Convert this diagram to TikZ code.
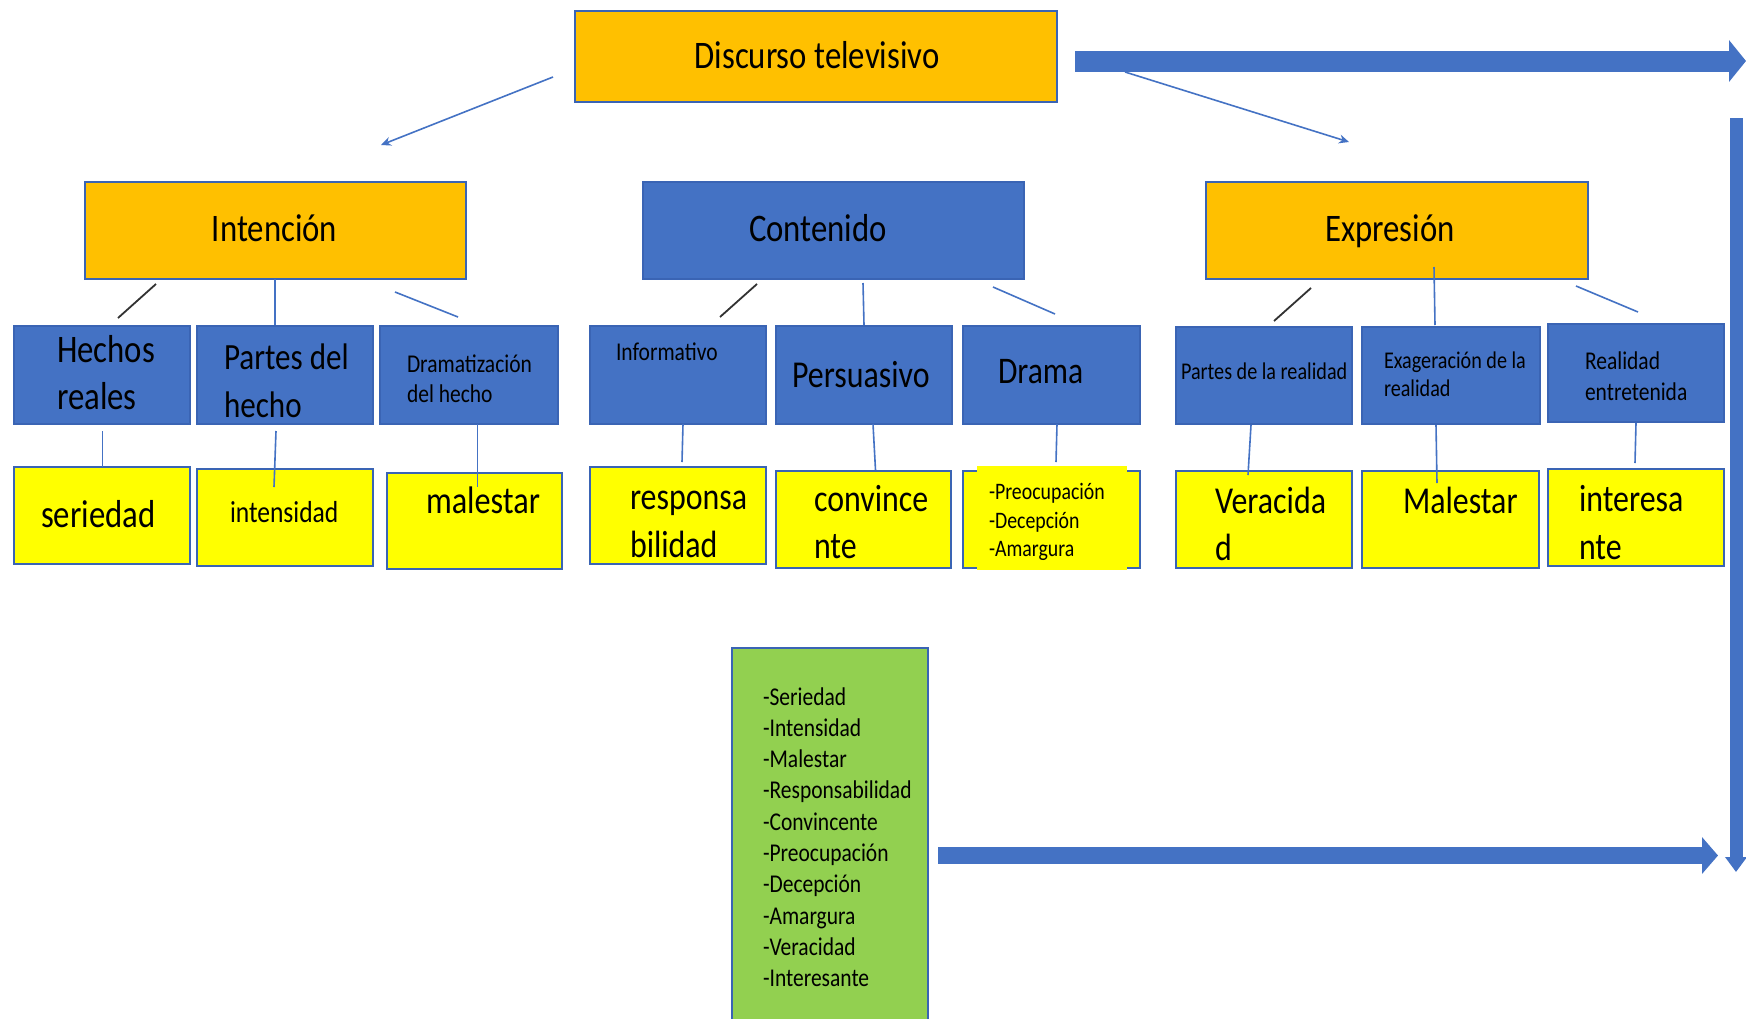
\documentclass[tikz,border=0pt]{standalone}
\usepackage{fontspec}
\setmainfont[FakeStretch=0.84]{Carlito}
\usetikzlibrary{arrows.meta,fit}
\definecolor{ofblue}{RGB}{68,114,196}
\definecolor{ofline}{RGB}{58,100,180}
\definecolor{oforange}{RGB}{255,192,0}
\definecolor{ofyellow}{RGB}{255,255,0}
\definecolor{ofgreen}{RGB}{146,208,80}
\definecolor{darkline}{RGB}{50,50,50}
\newcommand\fsz[1]{\fontsize{#1}{#1}\selectfont}
\begin{document}
\begin{tikzpicture}[x=0.5pt,y=-0.5pt,
  box/.style={draw=ofline, line width=1pt, inner sep=0pt, outer sep=0pt},
  bluebox/.style={box, fill=ofblue},
  orangebox/.style={box, fill=oforange},
  yellowbox/.style={box, fill=ofyellow},
  greenbox/.style={box, fill=ofgreen},
  patch/.style={fill=ofyellow, draw=none, inner sep=0pt, outer sep=0pt},
  txt/.style={inner sep=0pt, outer sep=0pt, anchor=base west, text=black},
  ctxt/.style={inner sep=0pt, outer sep=0pt, anchor=base, text=black, font=\fsz{19.5}},
  link/.style={draw=ofblue, line width=0.8pt},
  slash/.style={draw=darkline, line width=0.9pt},
  thinarrow/.style={draw=ofblue, line width=0.8pt, -{Stealth[length=5pt,width=4.5pt]}},
  bigarrow/.style={draw=ofblue}
]
\useasboundingbox (0,0) rectangle (1746,1018);
\fill[white] (0,0) rectangle (1746,1018);

% ---- level 1
\node[orangebox, fit={(575,11) (1057,102)}] (disc) {};
\node[ctxt] (disct) at (817,68) {Discurso televisivo};

% ---- level 2
\node[orangebox, fit={(85,182) (466,279)}] (inten) {};
\node[ctxt] (intent) at (274.5,241) {Intención};
\node[bluebox, fit={(643,182) (1024,279)}] (conte) {};
\node[ctxt] (contet) at (818,241) {Contenido};
\node[orangebox, fit={(1206,182) (1588,279)}] (expre) {};
\node[ctxt] (expret) at (1390,241) {Expresión};

% ---- level 3 (blue)
\node[bluebox, fit={(14,326) (190,424)}] (hr) {};
\node[txt, font=\fsz{19.5}] (hr1) at (57,362) {Hechos};
\node[txt, font=\fsz{19.5}] (hr2) at (57,409) {reales};

\node[bluebox, fit={(197,326) (373,424)}] (ph) {};
\node[txt, font=\fsz{18.5}] (ph1) at (224,369) {Partes del};
\node[txt, font=\fsz{18.5}] (ph2) at (224,417) {hecho};

\node[bluebox, fit={(380,326) (558,424)}] (dh) {};
\node[txt, font=\fsz{12.8}] (dh1) at (407,372) {Dramatización};
\node[txt, font=\fsz{12.8}] (dh2) at (407,402) {del hecho};

\node[bluebox, fit={(590,326) (766,424)}] (inf) {};
\node[txt, font=\fsz{12.8}] (inf1) at (616,360) {Informativo};

\node[bluebox, fit={(776,326) (952,424)}] (per) {};
\node[txt, font=\fsz{19}] (per1) at (792,387) {Persuasivo};

\node[bluebox, fit={(963,326) (1140,424)}] (dra) {};
\node[txt, font=\fsz{18.8}] (dra1) at (998,383) {Drama};

\node[bluebox, fit={(1176,327) (1352,424)}] (pr) {};
\node[txt, font=\fsz{12}] (pr1) at (1181,379) {Partes de la realidad};

\node[bluebox, fit={(1362,327) (1540,424)}] (ex) {};
\node[txt, font=\fsz{12}] (ex1) at (1384,368) {Exageración de la};
\node[txt, font=\fsz{12}] (ex2) at (1384,396) {realidad};

\node[bluebox, fit={(1548,324) (1724,422)}] (re) {};
\node[txt, font=\fsz{12.8}] (re1) at (1585,369) {Realidad};
\node[txt, font=\fsz{12.8}] (re2) at (1585,400) {entretenida};

% ---- level 4 (yellow)
\node[yellowbox, fit={(14,467) (190,564)}] (ys) {};
\node[txt, font=\fsz{19.5}] (ys1) at (41,527) {seriedad};

\node[yellowbox, fit={(197,469) (373,566)}] (yi) {};
\node[txt, font=\fsz{15.2}] (yi1) at (230,522) {intensidad};

\node[yellowbox, fit={(387,473) (562,569)}] (ym) {};
\node[txt, font=\fsz{19.2}] (ym1) at (426,513) {malestar};

\node[yellowbox, fit={(590,467) (766,564)}] (yr) {};
\node[txt, font=\fsz{19}] (yr1) at (630,509) {responsa};
\node[txt, font=\fsz{19}] (yr2) at (630,557) {bilidad};

\node[yellowbox, fit={(776,471) (951,568)}] (yc) {};
\node[txt, font=\fsz{19}] (yc1) at (814,511) {convince};
\node[txt, font=\fsz{19}] (yc2) at (814,558) {nte};

\node[yellowbox, fit={(963,471) (1140,568)}] (yd) {};
\node[patch, fit={(977,466) (1127,570)}] (ydp) {};
\node[txt, font=\fsz{11.8}] (yd1) at (989,499) {-Preocupación};
\node[txt, font=\fsz{11.8}] (yd2) at (989,528) {-Decepción};
\node[txt, font=\fsz{11.8}] (yd3) at (989,556) {-Amargura};

\node[yellowbox, fit={(1176,471) (1352,568)}] (yv) {};
\node[txt, font=\fsz{19}] (yv1) at (1215,513) {Veracida};
\node[txt, font=\fsz{19}] (yv2) at (1215,560) {d};

\node[yellowbox, fit={(1362,471) (1539,568)}] (yma) {};
\node[txt, font=\fsz{19}] (yma1) at (1403,513) {Malestar};

\node[yellowbox, fit={(1548,469) (1724,566)}] (yin) {};
\node[txt, font=\fsz{19}] (yin1) at (1579,511) {interesa};
\node[txt, font=\fsz{19}] (yin2) at (1579,559) {nte};

% ---- green summary box
\node[greenbox, fit={(732,648) (928,1040)}] (gr) {};
\foreach \t [count=\k from 0] in {-Seriedad,-Intensidad,-Malestar,-Responsabilidad,-Convincente,-Preocupación,-Decepción,-Amargura,-Veracidad,-Interesante}{
  \node[txt, font=\fsz{12.8}] (g\k) at (763,{705+31.3*\k}) {\t};
}

% ---- thin arrows from level 1
\coordinate (la1) at (553,77);  \coordinate (la2) at (381,145);
\coordinate (ra1) at (1125,72); \coordinate (ra2) at (1349,142);
\draw[thinarrow] (la1) -- (la2);
\draw[thinarrow] (ra1) -- (ra2);

% ---- connectors level 2 -> 3
\coordinate (c1a) at (156,284); \coordinate (c1b) at (118,318);
\coordinate (c2a) at (275,279); \coordinate (c2b) at (275,325);
\coordinate (c3a) at (395,292); \coordinate (c3b) at (458,317);
\coordinate (c4a) at (757,284); \coordinate (c4b) at (720,317);
\coordinate (c5a) at (863,283); \coordinate (c5b) at (864,325);
\coordinate (c6a) at (993,287); \coordinate (c6b) at (1055,314);
\coordinate (c7a) at (1311,288); \coordinate (c7b) at (1274,321);
\coordinate (c8a) at (1434,267); \coordinate (c8b) at (1435,325);
\coordinate (c9a) at (1576,286); \coordinate (c9b) at (1638,312);
\draw[slash] (c1a) -- (c1b);
\draw[link] (c2a) -- (c2b);
\draw[link] (c3a) -- (c3b);
\draw[slash] (c4a) -- (c4b);
\draw[link] (c5a) -- (c5b);
\draw[link] (c6a) -- (c6b);
\draw[slash] (c7a) -- (c7b);
\draw[link] (c8a) -- (c8b);
\draw[link] (c9a) -- (c9b);

% ---- connectors level 3 -> 4
\coordinate (d1a) at (102.5,431); \coordinate (d1b) at (102.5,467);
\coordinate (d2a) at (276,431);   \coordinate (d2b) at (274,487);
\coordinate (d3a) at (477.6,424); \coordinate (d3b) at (477.6,487);
\coordinate (d4a) at (683,424);   \coordinate (d4b) at (682,462);
\coordinate (d5a) at (873,424);   \coordinate (d5b) at (875.5,470);
\coordinate (d6a) at (1057,424);  \coordinate (d6b) at (1056,462);
\coordinate (d7a) at (1251,425);  \coordinate (d7b) at (1248,475);
\coordinate (d8a) at (1436,425);  \coordinate (d8b) at (1437,483);
\coordinate (d9a) at (1636,423);  \coordinate (d9b) at (1635,463);
\foreach \i in {1,...,9}{ \draw[link] (d\i a) -- (d\i b); }

% ---- thick block arrows
\coordinate (ta1) at (1075,61);  \coordinate (ta2) at (1746,61);
\coordinate (va1) at (1736,118); \coordinate (va2) at (1736,872);
\coordinate (ba1) at (938,855.5); \coordinate (ba2) at (1718,855.5);
\draw[bigarrow, line width=10.5pt, -{Triangle[length=8.5pt,width=20.5pt]}] (ta1) -- (ta2);
\draw[bigarrow, line width=6.5pt, -{Triangle[length=7.5pt,width=10.5pt]}] (va1) -- (va2);
\draw[bigarrow, line width=8.5pt, -{Triangle[length=8pt,width=18pt]}] (ba1) -- (ba2);
\end{tikzpicture}
\end{document}
